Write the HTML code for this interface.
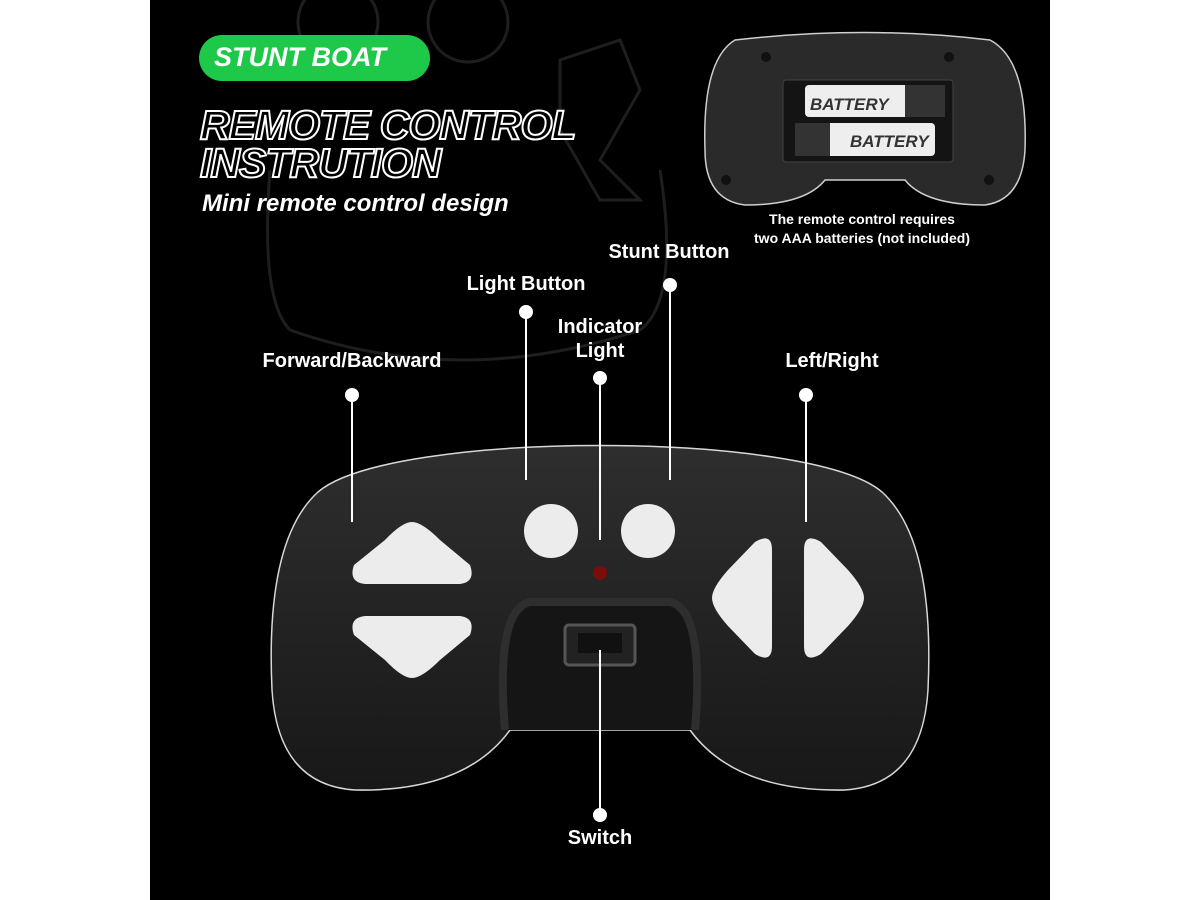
<!DOCTYPE html>
<html><head><meta charset="utf-8"><style>
body{margin:0;width:1200px;height:900px;background:#fff;overflow:hidden;font-family:"Liberation Sans",sans-serif}
#bg{position:absolute;left:150px;top:0;width:900px;height:900px;background:#000}
.t{position:absolute;color:#fff;font-weight:bold;white-space:nowrap}
</style></head><body>
<div id="bg"></div>
<svg width="1200" height="900" style="position:absolute;left:0;top:0">
<defs>
<linearGradient id="g1" x1="0" y1="0" x2="0" y2="1"><stop offset="0" stop-color="#2e2e2e"/><stop offset="1" stop-color="#181818"/></linearGradient>
</defs>
<g fill="none" stroke="#1e1e1e" stroke-width="3">
<circle cx="338" cy="22" r="40"/><circle cx="468" cy="22" r="40"/>
<path d="M560 60 L620 40 L640 90 L600 160 L640 200 L600 200 L560 130 Z"/>
<path d="M270 170 Q260 300 290 330 M660 170 Q680 300 640 330 M290 330 Q460 390 640 330"/>
</g>
<rect x="199" y="35" width="231" height="46" rx="23" fill="#1ec94a"/>
<path d="M318 492 C 390 430, 810 430, 882 492 Q935 540 928 690 Q922 785 845 790 Q735 792 690 730 L510 730 Q465 792 355 790 Q278 785 272 690 Q265 540 318 492 Z" fill="url(#g1)" stroke="#d8d8d8" stroke-width="1.5"/>
<path d="M505 730 Q495 610 530 602 L670 602 Q705 610 695 730" fill="#151515" stroke="#2e2e2e" stroke-width="8"/>
<rect x="565" y="625" width="70" height="40" rx="4" fill="#222" stroke="#555" stroke-width="3"/>
<rect x="578" y="633" width="44" height="20" fill="#111"/>
<circle cx="551" cy="531" r="27" fill="#ececec"/>
<circle cx="648" cy="531" r="27" fill="#ececec"/>
<circle cx="600" cy="573" r="7" fill="#7a0c0c"/>
<path d="M412 522 Q422 522 440 540 L470 565 Q476 582 460 584 L365 584 Q348 582 354 565 L385 540 Q402 522 412 522 Z" fill="#ececec"/>
<path d="M412 678 Q422 678 440 660 L470 635 Q476 618 460 616 L365 616 Q348 618 354 635 L385 660 Q402 678 412 678 Z" fill="#ececec"/>
<path d="M712 598 Q712 588 728 570 L755 542 Q772 532 772 550 L772 646 Q772 664 755 654 L728 626 Q712 608 712 598 Z" fill="#ececec"/>
<path d="M864 598 Q864 588 848 570 L821 542 Q804 532 804 550 L804 646 Q804 664 821 654 L848 626 Q864 608 864 598 Z" fill="#ececec"/>
<g stroke="#fff" stroke-width="2">
<line x1="352" y1="395" x2="352" y2="522"/>
<line x1="526" y1="312" x2="526" y2="480"/>
<line x1="600" y1="378" x2="600" y2="540"/>
<line x1="670" y1="285" x2="670" y2="480"/>
<line x1="806" y1="395" x2="806" y2="522"/>
<line x1="600" y1="650" x2="600" y2="815"/>
</g>
<g fill="#fff">
<circle cx="352" cy="395" r="7"/><circle cx="526" cy="312" r="7"/><circle cx="600" cy="378" r="7"/>
<circle cx="670" cy="285" r="7"/><circle cx="806" cy="395" r="7"/><circle cx="600" cy="815" r="7"/>
</g>
<path d="M735 40 Q865 25 990 40 Q1028 60 1025 150 Q1022 200 985 205 Q925 205 905 180 L825 180 Q805 205 745 205 Q705 200 705 150 Q702 60 735 40 Z" fill="#2a2a2a" stroke="#cfcfcf" stroke-width="1.5"/>
<rect x="783" y="80" width="170" height="82" rx="3" fill="#141414" stroke="#444"/>
<rect x="805" y="85" width="140" height="32" rx="4" fill="#eee"/>
<rect x="795" y="123" width="140" height="33" rx="4" fill="#eee"/>
<rect x="905" y="85" width="40" height="32" fill="#333"/><rect x="795" y="123" width="35" height="33" fill="#333"/>
<text x="810" y="110" font-family="Liberation Sans" font-weight="bold" font-style="italic" font-size="17" fill="#333">BATTERY</text>
<text x="850" y="147" font-family="Liberation Sans" font-weight="bold" font-style="italic" font-size="17" fill="#333">BATTERY</text>
<g fill="#111"><circle cx="766" cy="57" r="5"/><circle cx="949" cy="57" r="5"/><circle cx="726" cy="180" r="5"/><circle cx="989" cy="180" r="5"/></g>
</svg>
<div class="t" style="left:214px;top:42px;font-size:27px;font-style:italic;font-weight:900">STUNT BOAT</div>
<div class="t" style="left:200px;top:106px;font-size:41px;line-height:38px;font-style:italic;font-weight:900;color:#000;-webkit-text-stroke:2px #fff;letter-spacing:-1px">REMOTE CONTROL<br>INSTRUTION</div>
<div class="t" style="left:202px;top:190px;font-size:24px;font-style:italic">Mini remote control design</div>
<div class="t" style="left:712px;top:210px;width:300px;text-align:center;font-size:14px;line-height:19px">The remote control requires<br>two AAA batteries (not included)</div>
<div class="t" style="left:202px;top:350px;width:300px;text-align:center;font-size:20px">Forward/Backward</div>
<div class="t" style="left:376px;top:273px;width:300px;text-align:center;font-size:20px">Light Button</div>
<div class="t" style="left:450px;top:315px;width:300px;text-align:center;font-size:20px;line-height:24px">Indicator<br>Light</div>
<div class="t" style="left:519px;top:241px;width:300px;text-align:center;font-size:20px">Stunt Button</div>
<div class="t" style="left:682px;top:350px;width:300px;text-align:center;font-size:20px">Left/Right</div>
<div class="t" style="left:450px;top:827px;width:300px;text-align:center;font-size:20px">Switch</div>
</body></html>
